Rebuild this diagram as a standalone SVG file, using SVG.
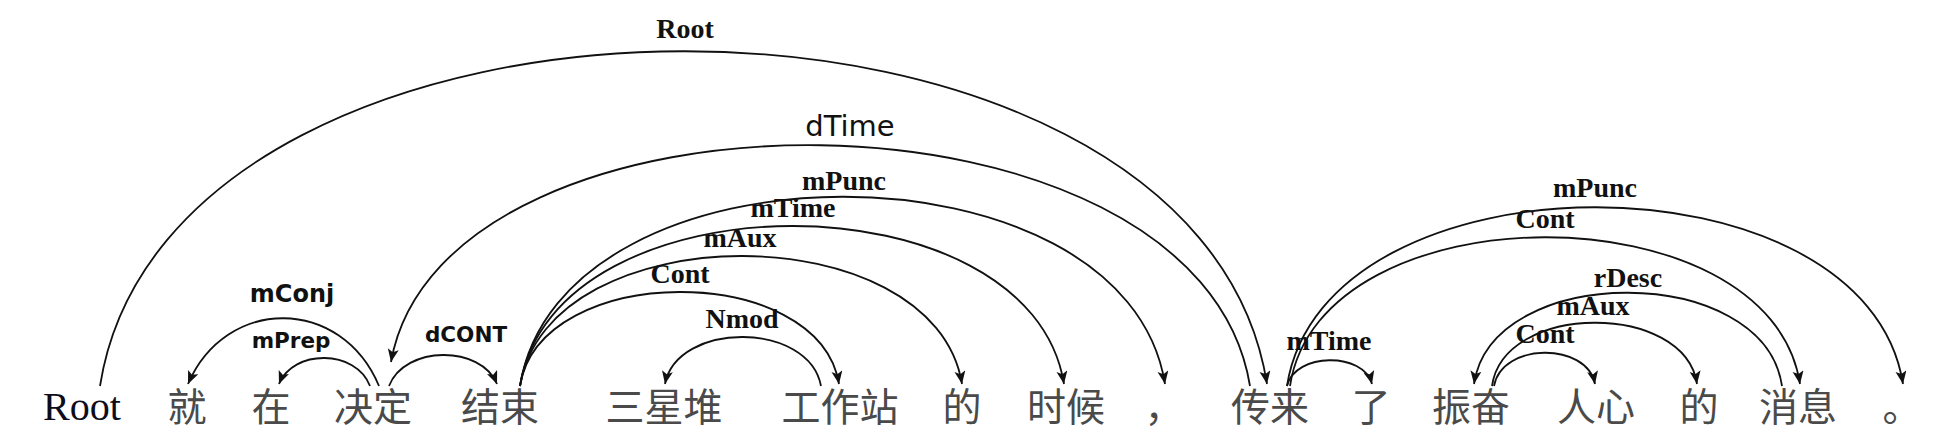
<svg xmlns="http://www.w3.org/2000/svg" width="1942" height="426" viewBox="0 0 1942 426">
<style>
.arc{fill:none;stroke:#111;stroke-width:1.8;marker-end:url(#ah)}
.lb{font-family:"Liberation Serif","Times New Roman",serif;font-weight:bold;font-size:28px;fill:#111;text-anchor:middle}
.ls{font-family:"DejaVu Sans",sans-serif;font-weight:bold;fill:#111;text-anchor:middle}
.w{font-family:"Noto Sans CJK SC",sans-serif;font-size:39px;fill:#4a4a4a;text-anchor:middle}
.rw{font-family:"Liberation Serif","Times New Roman",serif;font-size:40px;fill:#0d0d1a}
</style>
<defs>
<marker id="ah" markerUnits="userSpaceOnUse" markerWidth="15" markerHeight="13" refX="13" refY="5.5" orient="auto">
<path d="M0,0 L13,5.5 L0,11 L3,5.5 Z" fill="#111"/>
</marker>
</defs>
<rect width="1942" height="426" fill="#fff"/>
<g id="connectors">
<path class="arc" d="M100,386 C170,-60 1197,-60 1267,384"/>
<path class="arc" d="M1250,386 C1198,69 443,69 391,362"/>
<path class="arc" d="M379,386 C341,296 226,296 188,384"/>
<path class="arc" d="M370,386 C356,349 293,349 279,384"/>
<path class="arc" d="M389,386 C405,345 481,345 497,384"/>
<path class="arc" d="M520,386 C540,261 819,261 839,384"/>
<path class="arc" d="M520,386 C548,213 934,213 962,384"/>
<path class="arc" d="M520,386 C554,173 1030,173 1064,384"/>
<path class="arc" d="M520,386 C560,134 1125,134 1165,384"/>
<path class="arc" d="M821,386 C809,321 677,321 665,384"/>
<path class="arc" d="M1287,386 C1295,352 1364,352 1372,384"/>
<path class="arc" d="M1287,386 C1324,148 1866,148 1903,384"/>
<path class="arc" d="M1290,386 C1320,188 1770,188 1800,384"/>
<path class="arc" d="M1782,386 C1764,262 1492,262 1474,384"/>
<path class="arc" d="M1492,386 C1504,302 1685,302 1697,384"/>
<path class="arc" d="M1494,386 C1502,342 1587,342 1595,384"/>
</g>
<g id="labels">
<text class="lb" x="685" y="38">Root</text>
<text x="850" y="136" font-family="DejaVu Sans, sans-serif" font-size="29" fill="#111" text-anchor="middle">dTime</text>
<text class="ls" x="292" y="302" font-size="24">mConj</text>
<text class="ls" x="291" y="348" font-size="21.5">mPrep</text>
<text class="ls" x="466" y="342" font-size="21.5">dCONT</text>
<text class="lb" x="680" y="283">Cont</text>
<text class="lb" x="740" y="247">mAux</text>
<text class="lb" x="793" y="217">mTime</text>
<text class="lb" x="844" y="190">mPunc</text>
<text class="lb" x="742" y="328">Nmod</text>
<text class="lb" x="1329" y="350">mTime</text>
<text class="lb" x="1595" y="197">mPunc</text>
<text class="lb" x="1545" y="228">Cont</text>
<text class="lb" x="1628" y="287">rDesc</text>
<text class="lb" x="1593" y="315">mAux</text>
<text class="lb" x="1545" y="343">Cont</text>
</g>
<g id="n0"><text class="rw" x="43" y="420">Root</text></g>
<g id="n1"><text class="w" x="187" y="421">就</text></g>
<g id="n2"><text class="w" x="271" y="421">在</text></g>
<g id="n3"><text class="w" x="373" y="421">决定</text></g>
<g id="n4"><text class="w" x="500" y="421">结束</text></g>
<g id="n5"><text class="w" x="664" y="421">三星堆</text></g>
<g id="n6"><text class="w" x="840" y="421">工作站</text></g>
<g id="n7"><text class="w" x="962" y="421">的</text></g>
<g id="n8"><text class="w" x="1066" y="421">时候</text></g>
<g id="n9"><text class="w" x="1164" y="421">，</text></g>
<g id="n10"><text class="w" x="1270" y="421">传来</text></g>
<g id="n11"><text class="w" x="1371" y="421">了</text></g>
<g id="n12"><text class="w" x="1471" y="421">振奋</text></g>
<g id="n13"><text class="w" x="1596" y="421">人心</text></g>
<g id="n14"><text class="w" x="1699" y="421">的</text></g>
<g id="n15"><text class="w" x="1798" y="421">消息</text></g>
<g id="n16"><text class="w" x="1902" y="421">。</text></g>
</svg>
